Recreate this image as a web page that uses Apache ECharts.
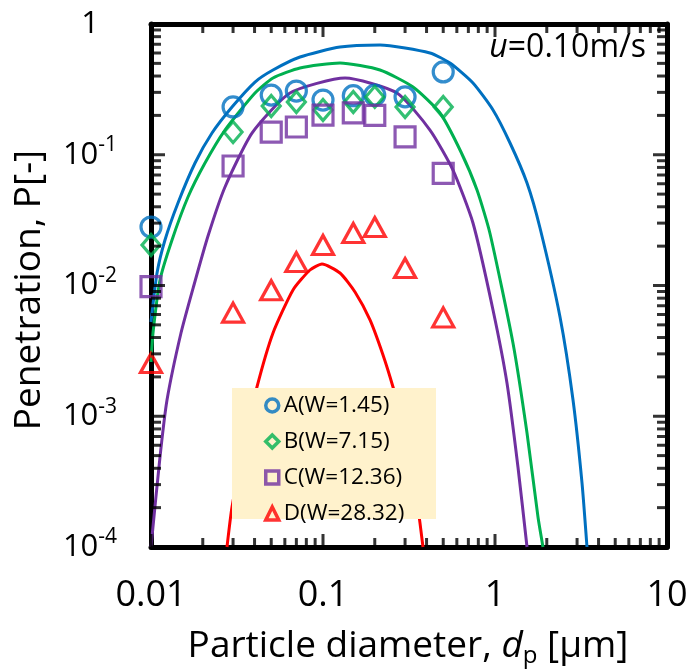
<!DOCTYPE html>
<html><head><meta charset="utf-8">
<script src="https://cdn.jsdelivr.net/npm/echarts@6/dist/echarts.min.js"></script>
<style>html,body{margin:0;padding:0;background:#fff}#c{width:691px;height:670px}</style>
</head><body><div id="c"></div>
<script>
const FONT = 'Open Sans';

// measured data (particle diameter in µm, penetration)
const diameters = [0.01, 0.03, 0.05, 0.07, 0.1, 0.15, 0.2, 0.3, 0.5];
const seriesNames = ['A(W=1.45)', 'B(W=7.15)', 'C(W=12.36)', 'D(W=28.32)'];
const valuesA = [0.028, 0.232, 0.286, 0.307, 0.262, 0.283, 0.286, 0.277, 0.43];
const valuesB = [0.0204, 0.149, 0.236, 0.253, 0.22, 0.253, 0.277, 0.232, 0.232];
const valuesC = [0.0098, 0.082, 0.149, 0.163, 0.201, 0.209, 0.2, 0.137, 0.072];
const valuesD = [0.00255, 0.0062, 0.0092, 0.0151, 0.0204, 0.0252, 0.028, 0.0136, 0.0057];

// model curves
const modelAx = [0.01, 0.01084, 0.01206, 0.01435, 0.01803, 0.02263, 0.02958, 0.04024, 0.05121, 0.07351, 0.1256, 0.2145, 0.4188, 0.5474, 0.7447, 0.9737, 1.223, 1.535, 1.827, 2.388, 2.842, 3.205, 3.426];
const modelAy = [0.00526, 0.01246, 0.0223, 0.0428, 0.0865, 0.1466, 0.2318, 0.36, 0.4448, 0.5593, 0.6669, 0.691, 0.6, 0.503, 0.3538, 0.22, 0.123, 0.0608, 0.02753, 0.00574, 0.00133, 0.000309, 0.0001];
const modelBx = [0.01, 0.01027, 0.01128, 0.01325, 0.01641, 0.0206, 0.02693, 0.04024, 0.05121, 0.07351, 0.1256, 0.2145, 0.3337, 0.4788, 0.6343, 0.786, 0.9352, 1.272, 1.535, 1.778, 1.901];
const modelBy = [0.0026, 0.00433, 0.01102, 0.0223, 0.0475, 0.0865, 0.1546, 0.2967, 0.3864, 0.4608, 0.503, 0.4448, 0.3298, 0.2086, 0.105, 0.0537, 0.025, 0.00363, 0.000744, 0.0001696, 0.0001];
const modelCx = [0.01, 0.01128, 0.01239, 0.01494, 0.01778, 0.02145, 0.02693, 0.03866, 0.06429, 0.1343, 0.2693, 0.4188, 0.5698, 0.7447, 0.9737, 1.174, 1.36, 1.535];
const modelCy = [0.0001, 0.000488, 0.00133, 0.00433, 0.01009, 0.0239, 0.0567, 0.1466, 0.2967, 0.3864, 0.2967, 0.1546, 0.0764, 0.03006, 0.0065, 0.001796, 0.000409, 0.0001];
const modelDx = [0.02766, 0.02958, 0.03519, 0.04132, 0.05121, 0.06693, 0.08402, 0.09867, 0.1256, 0.1535, 0.1876, 0.2233, 0.2553, 0.288, 0.3205, 0.352, 0.3814];
const modelDy = [0.0001, 0.000202, 0.000658, 0.001674, 0.00433, 0.00924, 0.01314, 0.0146, 0.01246, 0.00892, 0.00545, 0.00294, 0.001674, 0.000936, 0.000524, 0.000229, 0.0001];

// tick labels
const xTicks = [0.01, 0.1, 1, 10];
const xTickLabels = ['0.01', '0.1', '1', '10'];
const yTicks = [0.0001, 0.001, 0.01, 0.1, 1];
const yTickLabels = ['10{s|-4}', '10{s|-3}', '10{s|-2}', '10{s|-1}', '1'];

(function () {
const colors = ['#0070C0', '#00B050', '#7030A0', '#FF0000'];
const symbols = ['circle', 'diamond', 'rect', 'triangle'];
const symbolSizes = [20, [18, 21], 20, [21, 19]];
const X_MIN = 0.01, X_MAX = 10, Y_MIN = 0.0001, Y_MAX = 1;

function findLabel(v, ticks, labels) {
  for (let i = 0; i < ticks.length; i++) {
    if (Math.abs(Math.log10(v) - Math.log10(ticks[i])) < 1e-6) return labels[i];
  }
  return '';
}

const minorX = [], minorY = [];
for (let k = -2; k <= 0; k++) for (let m = 2; m <= 9; m++) minorX.push(m * Math.pow(10, k));
for (let k = -4; k <= -1; k++) for (let m = 2; m <= 9; m++) minorY.push(m * Math.pow(10, k));

const pts = (xs, ys) => xs.map((x, i) => [x, ys[i]]);
const obsValues = [valuesA, valuesB, valuesC, valuesD];
const models = [[modelAx, modelAy], [modelBx, modelBy], [modelCx, modelCy], [modelDx, modelDy]];

function axisLine() { return { show: true, onZero: false, lineStyle: { color: '#000', width: 5 } }; }

const series = [];
models.forEach((m, i) => {
  series.push({
    name: 'model' + i, type: 'line', data: pts(m[0], m[1]),
    showSymbol: false, smooth: 0.2, silent: true, z: 2,
    lineStyle: { color: colors[i], width: 3 }, itemStyle: { color: colors[i] }
  });
});
obsValues.forEach((vals, i) => {
  series.push({
    name: seriesNames[i], type: 'scatter', data: pts(diameters, vals),
    symbol: symbols[i], symbolSize: symbolSizes[i], z: 3, silent: true,
    itemStyle: { color: 'rgba(255,255,255,0)', borderColor: colors[i], borderWidth: 3.2 }
  });
});

// inward tick marks on all four sides, drawn as thin rect symbols on the log scales
const TW = 3;
function tickSeries(name, items) {
  return { name: name, type: 'scatter', z: 6, silent: true, clip: false, symbol: 'rect',
    itemStyle: { color: '#000' }, data: items };
}
const bottomTicks = [], topTicks = [], leftTicks = [], rightTicks = [];
function addX(v, L) {
  bottomTicks.push({ value: [v, Y_MIN], symbolSize: [TW, L], symbolOffset: [0, -L / 2] });
  topTicks.push({ value: [v, Y_MAX], symbolSize: [TW, L], symbolOffset: [0, L / 2] });
}
function addY(v, L) {
  leftTicks.push({ value: [X_MIN, v], symbolSize: [L, TW], symbolOffset: [L / 2, 0] });
  rightTicks.push({ value: [X_MAX, v], symbolSize: [L, TW], symbolOffset: [-L / 2, 0] });
}
minorX.forEach(v => addX(v, 9));
xTicks.forEach(v => addX(v, 13));
minorY.forEach(v => addY(v, 10));
yTicks.forEach(v => addY(v, 14));
series.push(tickSeries('tb', bottomTicks), tickSeries('tt', topTicks), tickSeries('tl', leftTicks), tickSeries('tr', rightTicks));

const option = {
  animation: false,
  backgroundColor: '#fff',
  textStyle: { fontFamily: FONT },
  grid: { left: 151, top: 24, right: 24, bottom: 123, containLabel: false, outerBoundsMode: 'none' },
  xAxis: [{
    type: 'log', logBase: 10, min: X_MIN, max: X_MAX, position: 'bottom',
    axisLine: axisLine(), axisTick: { show: false }, splitLine: { show: false }, minorTick: { show: false },
    axisLabel: {
      show: true, margin: 31, fontSize: 36, fontFamily: FONT, color: '#000',
      showMinLabel: true, showMaxLabel: true,
      formatter: v => findLabel(v, xTicks, xTickLabels)
    }
  }, {
    type: 'log', logBase: 10, min: X_MIN, max: X_MAX, position: 'top',
    axisLine: axisLine(), axisTick: { show: false }, splitLine: { show: false }, axisLabel: { show: false }
  }],
  yAxis: [{
    type: 'log', logBase: 10, min: Y_MIN, max: Y_MAX, position: 'left',
    axisLine: axisLine(), axisTick: { show: false }, splitLine: { show: false }, minorTick: { show: false },
    axisLabel: {
      show: true, margin: 61, align: 'center', fontSize: 31, lineHeight: 40, fontFamily: FONT, color: '#000',
      showMinLabel: true, showMaxLabel: true,
      formatter: v => findLabel(v, yTicks, yTickLabels),
      rich: { s: { fontSize: 21, lineHeight: 22, verticalAlign: 'top', fontFamily: FONT, color: '#000' } }
    }
  }, {
    type: 'log', logBase: 10, min: Y_MIN, max: Y_MAX, position: 'right',
    axisLine: axisLine(), axisTick: { show: false }, splitLine: { show: false }, axisLabel: { show: false }
  }],
  legend: {
    orient: 'vertical', left: 264, top: 394, padding: 0,
    itemWidth: 13, itemHeight: 13, itemGap: 13, selectedMode: false,
    data: seriesNames,
    textStyle: { fontSize: 22.5, lineHeight: 20, fontFamily: FONT, color: '#000' },
    itemStyle: { borderWidth: 3.5 }
  },
  graphic: [
    { type: 'rect', z: 3, shape: { x: 232, y: 388, width: 204, height: 131 }, style: { fill: '#FFF2CC' }, silent: true },
    { type: 'text', x: 29, y: 290, rotation: Math.PI / 2,
      style: { text: 'Penetration, P[-]', fontSize: 37, fontFamily: FONT, fill: '#000', align: 'center', verticalAlign: 'middle' } },
    { type: 'text', x: 408, y: 646,
      style: { text: 'Particle diameter, {i|d}{s|p} [μm]', fontSize: 37, lineHeight: 44, fontFamily: FONT, fill: '#000', align: 'center', verticalAlign: 'middle',
        rich: { i: { fontStyle: 'italic', fontSize: 37, lineHeight: 44, fontFamily: FONT }, s: { fontSize: 24, lineHeight: 24, verticalAlign: 'bottom', fontFamily: FONT } } } },
    { type: 'text', x: 646, y: 48,
      style: { text: '{i|u}=0.10m/s', fontSize: 32, fontFamily: FONT, fill: '#000', align: 'right', verticalAlign: 'middle',
        rich: { i: { fontStyle: 'italic', fontSize: 32, fontFamily: FONT } } } }
  ],
  series: series
};

const chart = echarts.init(document.getElementById('c'), null, { renderer: 'canvas' });
chart.setOption(option);
})();
</script>
</body></html>
